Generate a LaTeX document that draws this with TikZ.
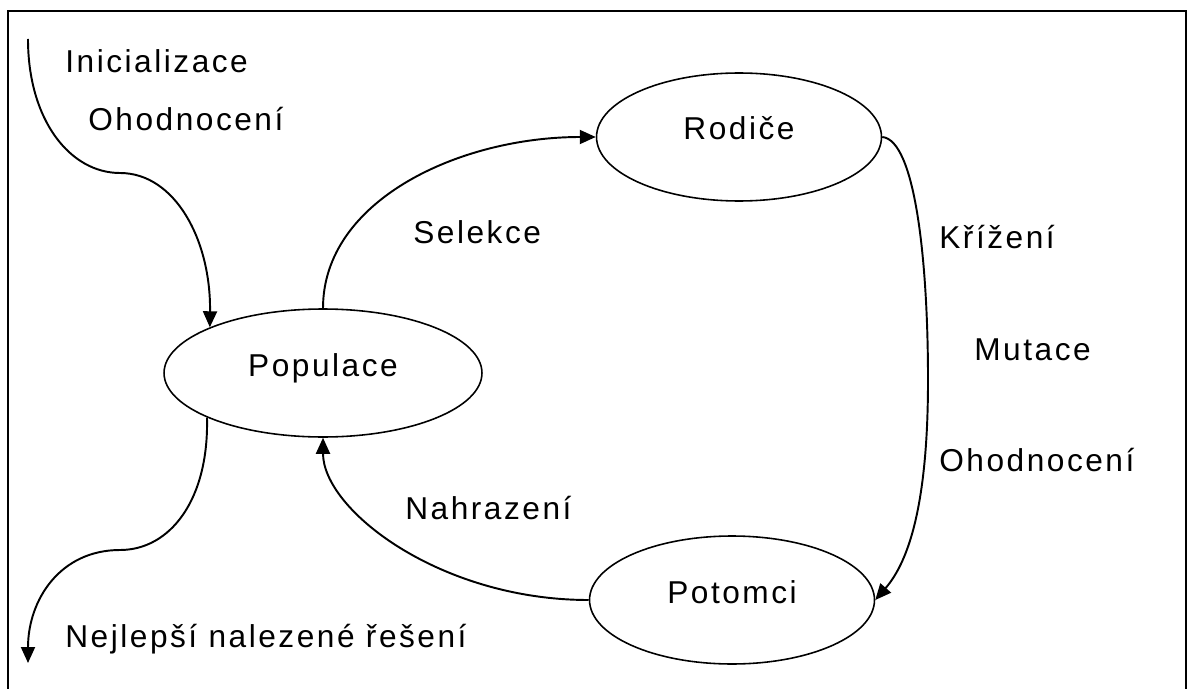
\documentclass[tikz,border=0pt]{standalone}
\usepackage{fontspec}
\setmainfont{Liberation Sans}[LetterSpace=8]
\usepackage{tikz}
\usetikzlibrary{shapes.geometric, arrows.meta}

\tikzset{
	stav/.style = {ellipse, draw, line width=0.9pt, minimum height=2.56cm, inner sep=0pt, text height=0.5cm, text depth=0.38cm},
	sipka/.style = {line width=1.1pt, -{Triangle[length=0.32cm, width=0.28cm]}},
	popis/.style = {anchor=base west, inner sep=0pt}
}

\begin{document}
\begin{tikzpicture}[x=0.02cm, y=-0.02cm, font=\fontsize{18}{21}\selectfont]
\useasboundingbox (0,0) rectangle (1189,689);
% ramecek
\draw[line width=1.1pt] (8,689) -- (8,11) -- (1186,11) -- (1186,689);

\node[stav, minimum width=6.36cm] (pop) at (323,373) {Populace};
\node[stav, minimum width=5.7cm] (rod) at (739,137) {Rodiče};
\node[stav, minimum width=5.7cm] (pot) at (732,600) {Potomci};

\coordinate (start) at (28,39);
\coordinate (konec) at (28,663);

\draw[sipka] (start) .. controls (28,120) and (70,173) .. (120,173)
	.. controls (175,173) and (211,240) .. (pop.158);
\draw[sipka] (pop.201.5) .. controls (209,500) and (170,550) .. (120,550)
	.. controls (60,550) and (28,600) .. (konec);
\draw[sipka] (pop.north) .. controls (323,200) and (460,137) .. (rod.west);
\draw[sipka] (rod.east) .. controls (915,140) and (928,260) .. (928,380)
	.. controls (928,500) and (910,560) .. (pot.east);
\draw[sipka] (pot.west) .. controls (440,600) and (323,510) .. (pop.south);

\node[popis] (init) at (65,73) {Inicializace};
\node[popis] (ohod1) at (88,131) {Ohodnocení};
\node[popis] (sel) at (413,243) {Selekce};
\node[popis] (kriz) at (939,248) {Křížení};
\node[popis] (mut) at (974,360) {Mutace};
\node[popis] (ohod2) at (939,471) {Ohodnocení};
\node[popis] (nahr) at (405,519) {Nahrazení};
\node[popis] (best) at (65,647) {Nejlepší nalezené řešení};
\end{tikzpicture}
\end{document}
